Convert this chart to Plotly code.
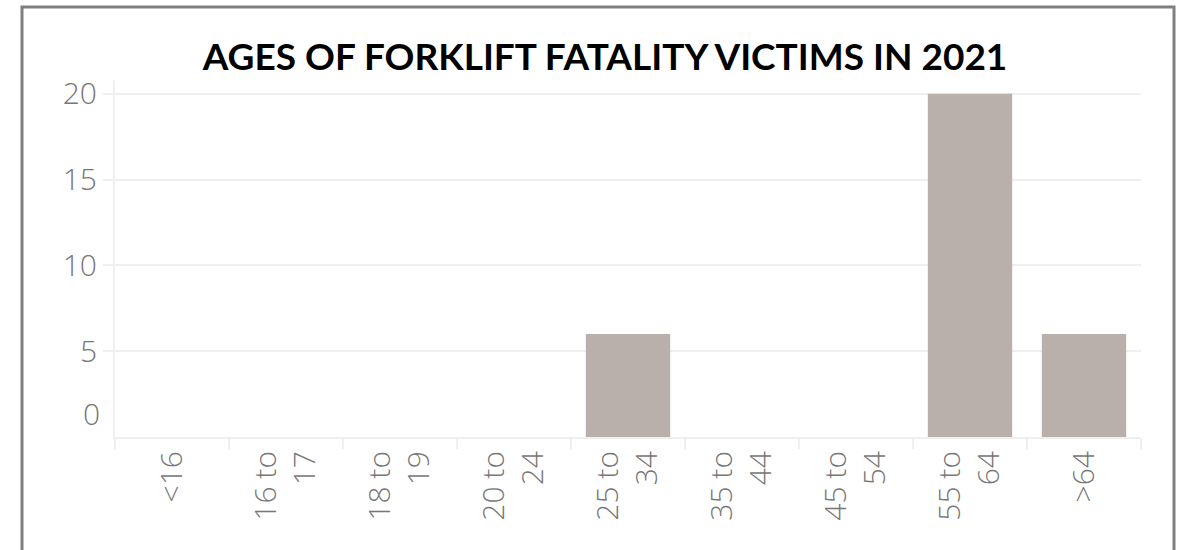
import plotly.graph_objects as go

categories = ["<16", "16 to 17", "18 to 19", "20 to 24", "25 to 34", "35 to 44", "45 to 54", "55 to 64", ">64"]
tick_labels = ["&lt;16", "16 to<br>17", "18 to<br>19", "20 to<br>24", "25 to<br>34",
               "35 to<br>44", "45 to<br>54", "55 to<br>64", "&gt;64"]
fatalities = [0, 0, 0, 0, 6, 0, 0, 20, 6]
y_ticks = [5, 10, 15, 20]

W, H = 1180, 550
L, R, T, B = 115, 1141, 80, 437  # plot area in pixels
GRID = "#efefef"
TXT = "#777777"
FS = 30

def px_x(p):
    return (p - L) / (R - L)

def px_y(p):
    return (B - p) / (B - T)

fig = go.Figure(go.Bar(
    x=categories, y=fatalities,
    marker=dict(color="#bab0ab", line=dict(width=0)),
    width=0.74,
))

fig.update_layout(
    width=W, height=H,
    margin=dict(l=L, r=W - R, t=T, b=H - B),
    paper_bgcolor="white", plot_bgcolor="white",
    showlegend=False,
    title=dict(text="<b>AGES OF FORKLIFT FATALITY VICTIMS IN 2021</b>",
               x=px_x(605), xref="paper", xanchor="center",
               y=1 - 57 / H, yref="container", yanchor="middle",
               font=dict(family="Lato", size=37, color="black")),
)

fig.update_xaxes(
    type="category",
    tickvals=categories, ticktext=tick_labels,
    tickangle=-90,
    tickfont=dict(family="Open Sans", size=FS, color=TXT, weight=300),
    ticks="outside", ticklen=10, tickcolor=GRID, tickwidth=1.5,
    tickson="boundaries",
    showgrid=False,
    showline=True, linecolor=GRID, linewidth=2,
    range=[-0.5, 8.5],
)

fig.update_yaxes(
    range=[0, 20.8],
    tickvals=y_ticks,
    tickfont=dict(family="Open Sans", size=FS, color=TXT, weight=300),
    ticks="outside", ticklen=10, tickcolor=GRID, tickwidth=2,
    showgrid=True, gridcolor=GRID, gridwidth=2,
    zeroline=False,
    showline=True, linecolor=GRID, linewidth=2,
)

# "0" label sits slightly above the baseline in the reference
fig.add_annotation(x=px_x(102), xref="paper", y=0, yref="y",
                   text="0", showarrow=False, xanchor="right", yanchor="middle",
                   yshift=24, font=dict(family="Open Sans", size=FS, color=TXT, weight=300))

# outer gray frame (open at the bottom, beyond the page)
fig.add_shape(type="rect", xref="paper", yref="paper",
              x0=px_x(22), x1=px_x(1174), y0=px_y(580), y1=px_y(7),
              line=dict(color="#7f7f7f", width=3), fillcolor="rgba(0,0,0,0)", layer="above")

fig.write_html("out.html", config={"displayModeBar": False},
               post_script="document.body.style.margin='0';")
